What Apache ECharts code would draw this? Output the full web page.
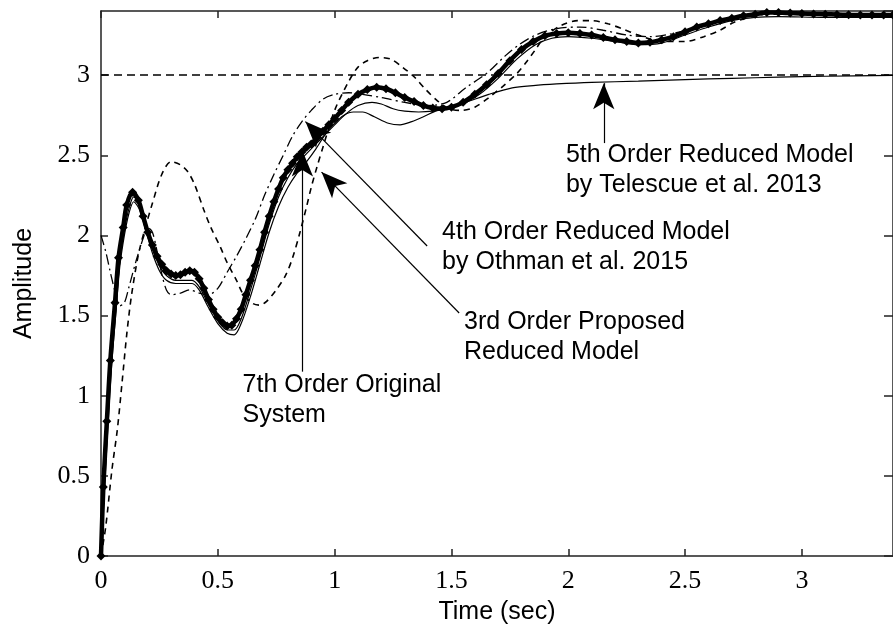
<!DOCTYPE html>
<html>
<head>
<meta charset="utf-8">
<script src="https://cdn.jsdelivr.net/npm/echarts@6/dist/echarts.min.js"></script>
<style>
html,body{margin:0;padding:0;background:#fff;}
#chart{width:893px;height:636px;}
</style>
</head>
<body>
<div id="chart"></div>
<script>
// ---- data (time in sec, amplitude) ----
const xTicks = [0, 0.5, 1, 1.5, 2, 2.5, 3];
const yTicks = [0, 0.5, 1, 1.5, 2, 2.5, 3];

// 7th Order Original System (thick, diamond markers)
const original7 = [
 [0,0],[0.01,0.43],[0.025,0.84],[0.04,1.22],[0.06,1.58],[0.075,1.86],[0.095,2.05],[0.11,2.19],
 [0.135,2.27],[0.16,2.22],[0.18,2.12],[0.2,2.02],[0.22,1.94],[0.24,1.87],[0.26,1.82],[0.28,1.78],
 [0.3,1.76],[0.32,1.75],[0.34,1.755],[0.36,1.77],[0.38,1.78],[0.4,1.77],[0.42,1.73],[0.44,1.67],
 [0.46,1.6],[0.48,1.54],[0.5,1.49],[0.52,1.455],[0.54,1.435],[0.56,1.44],[0.58,1.48],[0.6,1.54],
 [0.62,1.63],[0.64,1.72],[0.66,1.81],[0.68,1.91],[0.7,2.02],[0.72,2.12],[0.74,2.21],[0.76,2.29],
 [0.78,2.36],[0.8,2.41],[0.82,2.45],[0.84,2.49],[0.86,2.52],[0.88,2.55],[0.9,2.57],[0.925,2.61],
 [0.95,2.65],[0.975,2.69],[1.0,2.73],[1.03,2.78],[1.06,2.83],[1.1,2.88],[1.14,2.91],[1.18,2.925],
 [1.22,2.915],[1.26,2.89],[1.3,2.86],[1.34,2.835],[1.38,2.81],[1.42,2.795],[1.46,2.79],[1.5,2.8],
 [1.55,2.83],[1.6,2.88],[1.65,2.94],[1.7,3.01],[1.75,3.09],[1.8,3.16],[1.85,3.21],[1.9,3.245],
 [1.95,3.26],[2.0,3.265],[2.05,3.26],[2.1,3.25],[2.15,3.235],[2.2,3.22],[2.25,3.21],[2.3,3.2],
 [2.35,3.205],[2.4,3.22],[2.45,3.24],[2.5,3.27],[2.55,3.3],[2.6,3.32],[2.65,3.34],[2.7,3.355],
 [2.75,3.37],[2.8,3.38],[2.85,3.39],[2.9,3.39],[2.95,3.387],[3.0,3.385],[3.05,3.382],[3.1,3.38],
 [3.15,3.378],[3.2,3.376],[3.25,3.375],[3.3,3.375],[3.35,3.375],[3.39,3.375]
];

// thin solid curve close to the original
const closeModel = [
 [0,0],[0.015,0.45],[0.03,0.86],[0.045,1.22],[0.065,1.57],[0.08,1.83],[0.1,2.03],[0.12,2.17],
 [0.14,2.24],[0.165,2.19],[0.19,2.07],[0.22,1.92],[0.25,1.81],[0.28,1.75],[0.32,1.72],[0.36,1.72],
 [0.39,1.72],[0.42,1.68],[0.46,1.57],[0.5,1.47],[0.54,1.41],[0.57,1.41],[0.6,1.48],[0.64,1.66],
 [0.68,1.86],[0.72,2.07],[0.76,2.24],[0.8,2.36],[0.84,2.45],[0.88,2.51],[0.94,2.6],[1.0,2.69],
 [1.05,2.76],[1.1,2.81],[1.16,2.83],[1.2,2.82],[1.25,2.79],[1.3,2.775],[1.36,2.77],[1.42,2.775],
 [1.48,2.79],[1.55,2.82],[1.62,2.88],[1.7,2.98],[1.78,3.1],[1.86,3.19],[1.93,3.23],[2.0,3.24],
 [2.1,3.23],[2.2,3.21],[2.3,3.19],[2.4,3.2],[2.5,3.25],[2.6,3.3],[2.7,3.34],[2.8,3.36],
 [2.9,3.365],[3.1,3.36],[3.39,3.36]
];

// 5th Order Reduced Model by Telescue et al. 2013 (thin solid, settles near 3)
const telescue5 = [
 [0,0],[0.015,0.42],[0.03,0.82],[0.045,1.18],[0.065,1.54],[0.08,1.8],[0.1,2.0],[0.12,2.14],
 [0.14,2.21],[0.165,2.16],[0.19,2.04],[0.22,1.89],[0.25,1.78],[0.28,1.72],[0.32,1.7],[0.36,1.7],
 [0.39,1.7],[0.42,1.66],[0.46,1.55],[0.5,1.45],[0.54,1.39],[0.57,1.38],[0.6,1.45],[0.64,1.62],
 [0.68,1.82],[0.72,2.02],[0.76,2.18],[0.8,2.3],[0.84,2.39],[0.88,2.46],[0.92,2.54],[0.96,2.63],
 [1.0,2.7],[1.04,2.75],[1.08,2.77],[1.12,2.77],[1.17,2.74],[1.23,2.7],[1.28,2.69],[1.33,2.71],
 [1.38,2.74],[1.44,2.78],[1.5,2.8],[1.58,2.84],[1.66,2.88],[1.76,2.92],[1.85,2.935],[1.95,2.945],
 [2.1,2.955],[2.3,2.962],[2.5,2.972],[2.7,2.98],[2.9,2.987],[3.1,2.993],[3.39,2.998]
];

// dash-dot curve (starts at 2)
const dashDotModel = [
 [0,2.0],[0.02,1.9],[0.04,1.77],[0.06,1.65],[0.08,1.56],[0.1,1.58],[0.12,1.68],[0.15,1.84],
 [0.18,1.98],[0.2,2.05],[0.22,2.02],[0.24,1.9],[0.26,1.76],[0.28,1.66],[0.3,1.63],[0.34,1.64],
 [0.38,1.66],[0.42,1.64],[0.46,1.63],[0.5,1.67],[0.54,1.77],[0.58,1.87],[0.62,1.98],[0.66,2.1],
 [0.7,2.25],[0.74,2.38],[0.78,2.5],[0.82,2.62],[0.86,2.71],[0.9,2.78],[0.95,2.85],[1.0,2.88],
 [1.06,2.89],[1.12,2.88],[1.2,2.86],[1.3,2.83],[1.4,2.81],[1.48,2.83],[1.56,2.92],[1.65,3.01],
 [1.73,3.12],[1.79,3.19],[1.86,3.25],[1.95,3.29],[2.05,3.3],[2.15,3.28],[2.25,3.25],[2.35,3.24],
 [2.45,3.26],[2.55,3.3],[2.65,3.34],[2.75,3.37],[2.9,3.38],[3.1,3.375],[3.39,3.375]
];

// dashed curve with large oscillation
const dashedModel = [
 [0,0],[0.02,0.18],[0.047,0.54],[0.07,0.79],[0.09,1.08],[0.11,1.38],[0.13,1.62],[0.16,1.88],
 [0.19,2.05],[0.22,2.2],[0.26,2.38],[0.3,2.46],[0.34,2.44],[0.37,2.4],[0.4,2.32],[0.44,2.16],
 [0.47,2.05],[0.51,1.93],[0.54,1.83],[0.58,1.72],[0.61,1.63],[0.65,1.575],[0.68,1.565],[0.71,1.59],
 [0.75,1.66],[0.79,1.75],[0.82,1.86],[0.85,2.01],[0.88,2.18],[0.9,2.3],[0.925,2.43],[0.95,2.55],
 [1.0,2.78],[1.06,2.96],[1.1,3.05],[1.14,3.09],[1.19,3.11],[1.24,3.1],[1.29,3.05],[1.34,2.99],
 [1.39,2.91],[1.44,2.84],[1.49,2.79],[1.54,2.78],[1.6,2.8],[1.66,2.86],[1.72,2.93],[1.78,3.01],
 [1.82,3.08],[1.86,3.16],[1.9,3.24],[1.97,3.31],[2.04,3.34],[2.1,3.34],[2.17,3.32],[2.23,3.29],
 [2.3,3.25],[2.4,3.21],[2.5,3.21],[2.58,3.24],[2.65,3.28],[2.71,3.33],[2.8,3.37],[2.9,3.39],
 [3.0,3.385],[3.2,3.375],[3.39,3.375]
];

// horizontal dashed reference level
const refLevel = [[0,3],[3.39,3]];

// annotations: text, text anchor (left, first-line centre) and arrow from/to in data units
const annTexts = [
 '7th Order Original\nSystem',
 '3rd Order Proposed\nReduced Model',
 '4th Order Reduced Model\nby Othman et al. 2015',
 '5th Order Reduced Model\nby Telescue et al. 2013'
];
const annAnchors = [[0.606,1.067],[1.554,1.46],[1.46,2.02],[1.99,2.5]];
const arrowFrom = [[0.862,1.15],[1.533,1.516],[1.396,1.934],[2.152,2.576]];
const arrowTo   = [[0.862,2.53],[0.944,2.395],[0.875,2.71],[2.152,2.95]];

// ---- chart ----
const chart = echarts.init(document.getElementById('chart'), null, {renderer:'canvas'});
const black = '#000';
const axisColor = '#222';
const tickLabel = {fontFamily:'Liberation Serif', fontSize:26, color:'#000'};
const mult = v => Math.abs(v*2 - Math.round(v*2)) < 1e-6;
const lineCfg = {show:true, onZero:false, lineStyle:{color:axisColor, width:1.5}};
const tickCfg = {show:true, inside:true, length:7, lineStyle:{color:axisColor, width:1.5}};

const option = {
  animation:false,
  backgroundColor:'#fff',
  grid:{left:101, top:11, right:-3, bottom:80},
  xAxis:[
    {type:'value', min:0, max:3.39, interval:0.5, position:'bottom',
     name:'Time (sec)', nameLocation:'middle', nameGap:44,
     nameTextStyle:{fontFamily:'Liberation Sans', fontSize:25, color:'#000'},
     axisLine:lineCfg, axisTick:tickCfg,
     axisLabel:Object.assign({margin:12, showMaxLabel:false,
       formatter:v => (mult(v) && xTicks.indexOf(+v.toFixed(1))>=0) ? String(+v.toFixed(1)) : ''}, tickLabel),
     splitLine:{show:false}},
    {type:'value', min:0, max:3.39, interval:0.5, position:'top',
     axisLine:lineCfg, axisTick:tickCfg,
     axisLabel:{show:false}, splitLine:{show:false}}
  ],
  yAxis:[
    {type:'value', min:0, max:3.4, interval:0.5, position:'left',
     name:'Amplitude', nameLocation:'middle', nameGap:64, nameRotate:90,
     nameTextStyle:{fontFamily:'Liberation Sans', fontSize:25, color:'#000'},
     axisLine:lineCfg, axisTick:tickCfg,
     axisLabel:Object.assign({margin:11, showMaxLabel:false,
       formatter:v => (mult(v) && yTicks.indexOf(+v.toFixed(1))>=0) ? String(+v.toFixed(1)) : ''}, tickLabel),
     splitLine:{show:false}},
    {type:'value', min:0, max:3.4, interval:0.5, position:'right',
     axisLine:lineCfg, axisTick:Object.assign({}, tickCfg, {length:9}),
     axisLabel:{show:false}, splitLine:{show:false}}
  ],
  series:[
    {name:'ref', type:'line', data:refLevel, symbol:'none',
     lineStyle:{color:black, width:1.5, type:[8,5]},
     markLine:{silent:true, symbol:['none','arrow'], symbolSize:[16,26],
       label:{show:false}, lineStyle:{color:black, width:1.2, type:'solid'},
       data: arrowFrom.map((f,i)=>[{coord:f},{coord:arrowTo[i]}])}},
    {name:'dashed', type:'line', data:dashedModel, symbol:'none', smooth:0.3,
     lineStyle:{color:black, width:1.6, type:[6,5]}},
    {name:'dashdot', type:'line', data:dashDotModel, symbol:'none', smooth:0.3,
     lineStyle:{color:black, width:1.3, type:[10,4,2,4]}},
    {name:'5th Telescue', type:'line', data:telescue5, symbol:'none', smooth:0.3,
     lineStyle:{color:black, width:1.2}},
    {name:'close', type:'line', data:closeModel, symbol:'none', smooth:0.3,
     lineStyle:{color:black, width:1.2}},
    {name:'7th Original', type:'line', data:original7, smooth:0.3,
     symbol:'diamond', symbolSize:9, showAllSymbol:true,
     itemStyle:{color:black}, lineStyle:{color:black, width:4.5}}
  ]
};
chart.setOption(option);

const graphics = annTexts.map((t,i)=>{
  const p = chart.convertToPixel({gridIndex:0}, annAnchors[i]);
  return {type:'text', x:p[0], y:p[1]-15, silent:true,
    style:{text:t, fill:'#000', font:'25px "Liberation Sans", Arial, sans-serif',
      lineHeight:30, align:'left', verticalAlign:'top'}};
});
chart.setOption({graphic:graphics});
</script>
</body>
</html>
